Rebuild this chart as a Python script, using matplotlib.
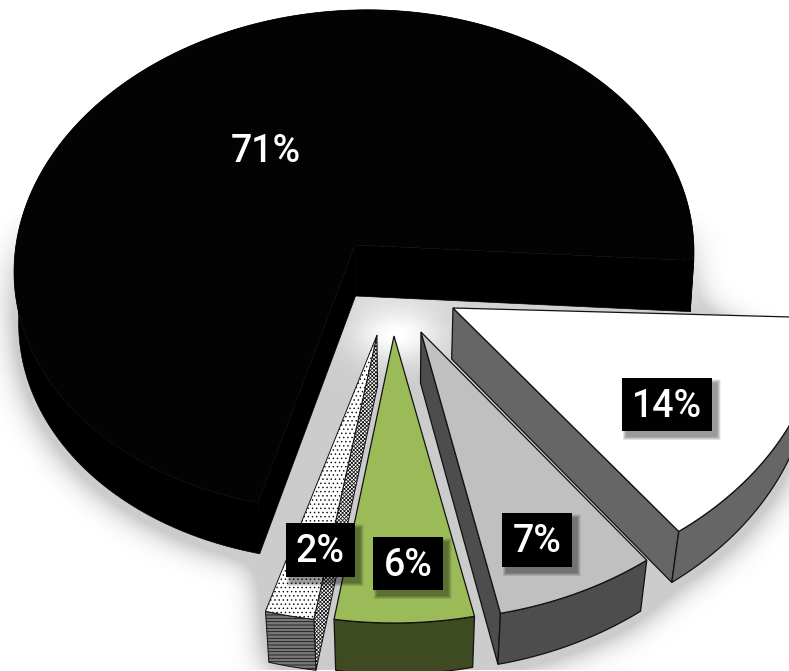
import matplotlib
matplotlib.use('Agg')
import matplotlib.pyplot as plt
from matplotlib.patches import Polygon, Rectangle
from matplotlib.path import Path
import numpy as np

# slice order: counter-clockwise from the right hand side, then clockwise for the rest
big_value = 71
values = [14, 7, 6, 2]
face_colors = ['#ffffff', '#c0c0c0', '#9bbb59', '#ffffff']
side_colors = ['#666666', '#4d4d4d', '#3e4a22', '#777777']

W, H = 789, 671
start = -2.0
depth = 51
vx = 400

# pixel geometry of the exploded slices: apex x, apex y, rx, ry
apex = [(453, 308), (421, 332), (394, 336), (377, 335)]
radii = [(370, 282), (370, 288), (375, 287), (395, 288)]
# label boxes: x0, y0, x1, y1
boxes = [(622, 378, 712, 431), (502, 513, 572, 567), (373, 537, 443, 590), (286, 523, 355, 577)]

plt.rcParams['font.family'] = ['Roboto', 'DejaVu Sans']
plt.rcParams['hatch.linewidth'] = 0.55


def drop(p, lean=0.025):
    # extrude downwards, sides lean in towards the vanishing point
    q = np.array(p, dtype=float)
    q[:, 0] -= lean * (q[:, 0] - vx)
    q[:, 1] += depth
    return q


def arc(a, b, ax_, ay_, rx, ry):
    t = np.radians(np.linspace(a, b, 80))
    return np.column_stack([ax_ + rx * np.cos(t), ay_ - ry * np.sin(t)])


def side(p, lean=0.025):
    return np.vstack([p, drop(p, lean)[::-1]])


# black slice: slightly tilted ellipse, the back is flatter than the front
t = np.radians(np.linspace(start, start + big_value * 3.6, 300))
ry_big = np.where(np.sin(t) > 0, 252, 248)
big_arc = np.column_stack([354 + 340 * np.cos(t), 262 - ry_big * np.sin(t) - 10 * np.cos(t)])
big_apex = np.array([[355, 245]], dtype=float)
big_face = np.vstack([big_apex, big_arc])
big_lean = 0.012
big_parts = [side(big_arc, big_lean), side(np.vstack([big_apex, big_arc[:1]]), big_lean),
             side(np.vstack([big_apex, big_arc[-1:]]), big_lean)]

# the small slices
arcs = []
a = start
for v, (ax_, ay_), (rx, ry) in zip(values, apex, radii):
    b = a - v * 3.6
    arcs.append(arc(a, b, ax_, ay_, rx, ry))
    a = b

# soft shadow under everything
yy, xx = np.mgrid[0:H, 0:W]
pts = np.column_stack([xx.ravel(), yy.ravel()])
mask = Path(big_face).contains_points(pts)
for part in big_parts:
    mask |= Path(part).contains_points(pts)
# the gap and the exploded slices count as one blob
gap_start = drop(big_arc[-1:], big_lean)
outline = np.vstack([[[355, 296]], [[690, 300]]] + [drop(p) for p in arcs] + [gap_start])
mask |= Path(outline).contains_points(pts)
pad = 80
m = np.pad(mask.reshape(H, W).astype(float), pad)
fy = np.fft.fftfreq(m.shape[0])[:, None]
fx = np.fft.fftfreq(m.shape[1])[None, :]
sigma = 16
blur = np.fft.ifft2(np.fft.fft2(m) * np.exp(-2 * (np.pi * sigma) ** 2 * (fx ** 2 + fy ** 2))).real
blur = blur[pad - 6:-pad - 6, pad:-pad]  # a bit lower than the pie
fade = np.clip((yy - 210) / 110.0, 0, 1)
bg = 1 - 0.2 * np.clip(blur * 2.4, 0, 1) * fade
glow = np.exp(-((xx - 397) / 46.0) ** 2 - ((yy - 335) / 28.0) ** 2)
bg = np.clip(bg + 0.2 * glow, 0, 1)

fig = plt.figure(figsize=(W / 100, H / 100), dpi=100)
ax = fig.add_axes([0, 0, 1, 1])
ax.imshow(bg, cmap='gray', vmin=0, vmax=1, interpolation='bilinear')
ax.set_xlim(0, W)
ax.set_ylim(H, 0)
ax.axis('off')

for part in big_parts:
    ax.add_patch(Polygon(part, closed=True, fc='#000000', ec='#000000', lw=0.5, zorder=2))
ax.add_patch(Polygon(big_face, closed=True, fc='#030303', ec='none', zorder=2.1))

# draw back to front, white goes on top of the grey one
for i in [3, 2, 1, 0]:
    p = arcs[i]
    ap = np.array([apex[i]], dtype=float)
    z = 3 + (3 - i)
    if i == 3:
        cut = np.vstack([ap, p[:1]])
        ax.add_patch(Polygon(side(cut), closed=True, fc='#ffffff', ec='#111111', lw=0.7,
                             hatch='xxxxxxxxx', zorder=z))
        ax.add_patch(Polygon(side(p), closed=True, fc=side_colors[i], ec='#111111', lw=0.7,
                             hatch='-----', zorder=z))
        ax.add_patch(Polygon(np.vstack([ap, p]), closed=True, fc=face_colors[i], ec='#111111',
                             lw=0.7, hatch='....', zorder=z))
        continue
    if i < 2:
        cut = np.vstack([ap, p[-1:]])
        ax.add_patch(Polygon(side(cut), closed=True, fc=side_colors[i], ec='#111111', lw=0.9, zorder=z))
    ax.add_patch(Polygon(side(p), closed=True, fc=side_colors[i], ec='#111111', lw=0.9, zorder=z))
    ax.add_patch(Polygon(np.vstack([ap, p]), closed=True, fc=face_colors[i], ec='#111111', lw=0.9, zorder=z))

# labels in black boxes with a soft drop shadow
for v, (x0, y0, x1, y1) in zip(values, boxes):
    for g in range(8, 0, -1):
        ax.add_patch(Rectangle((x0 + 5 - g / 2, y0 + 5 - g / 2), x1 - x0 + g, y1 - y0 + g,
                               fc='#000000', ec='none', alpha=0.06, zorder=20))
    ax.add_patch(Rectangle((x0, y0), x1 - x0, y1 - y0, fc='#000000', ec='none', zorder=21))
    ax.text((x0 + x1) / 2, (y0 + y1) / 2 + 2, f'{v}%', color='white', fontsize=27, fontweight='medium',
            ha='center', va='center', zorder=22)
ax.text(266, 151, f'{big_value}%', color='white', fontsize=27, fontweight='medium',
        ha='center', va='center', zorder=22)

fig.savefig('out.png', dpi=100)
